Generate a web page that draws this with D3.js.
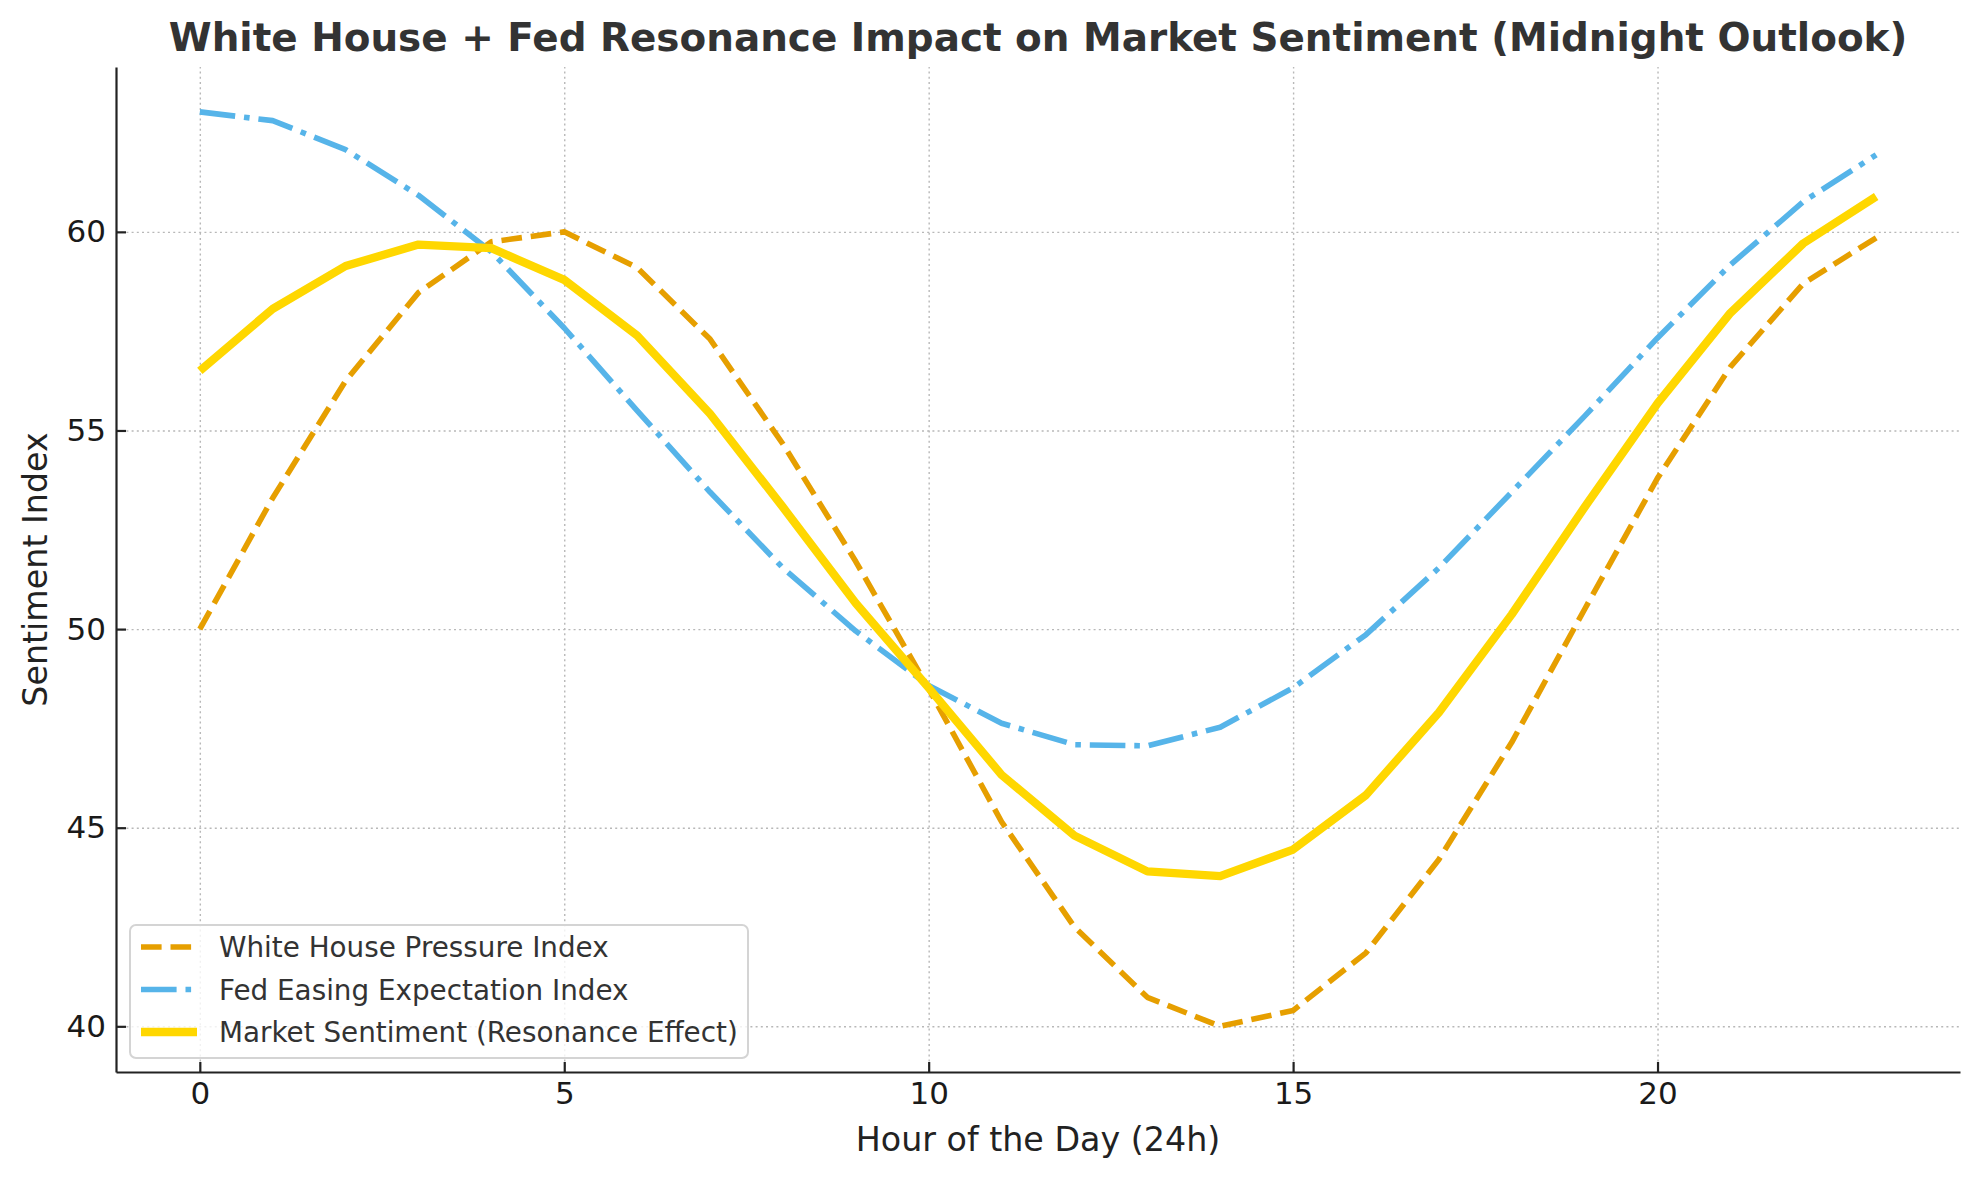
<!DOCTYPE html>
<html>
<head>
<meta charset="utf-8">
<script src="https://cdn.jsdelivr.net/npm/d3@7"></script>
<style>
  body { margin: 0; background: #fff; }
  svg { display: block; font-family: "DejaVu Sans", sans-serif; }
</style>
</head>
<body>
<svg id="chart"></svg>
<script>
// hours 0..23
let hours = d3.range(0, 24)

let whitehouse = [50.0, 53.3, 56.25, 58.47, 59.75, 60.0, 59.1, 57.3, 54.66, 51.7, 48.5, 45.15,
                  42.5, 40.73, 40.0, 40.4, 41.85, 44.2, 47.15, 50.5, 53.8, 56.6, 58.7, 59.85]
let fed = [63.02, 62.8, 62.07, 60.92, 59.5, 57.58, 55.5, 53.45, 51.54, 49.95, 48.58, 47.63,
           47.09, 47.06, 47.53, 48.52, 49.86, 51.54, 53.45, 55.36, 57.33, 59.17, 60.76, 61.94]
let market = [56.5, 58.06, 59.14, 59.68, 59.59, 58.79, 57.39, 55.42, 53.07, 50.65, 48.52, 46.33,
              44.8, 43.9, 43.78, 44.45, 45.82, 47.9, 50.37, 53.07, 55.68, 57.96, 59.71, 60.89]

let seriesNames = ['White House Pressure Index', 'Fed Easing Expectation Index', 'Market Sentiment (Resonance Effect)']
let xTicks = [0, 5, 10, 15, 20]
let yTicks = [40, 45, 50, 55, 60]

let width = 1980
let height = 1180
let plotLeft = 116, plotRight = 1960, plotTop = 67, plotBottom = 1072

let svg = d3.select('#chart')
    .attr('width', width)
    .attr('height', height)

let xScale = d3.scaleLinear()
    .domain([-1.15, 24.15])
    .range([plotLeft, plotRight])

let yScale = d3.scaleLinear()
    .domain([38.85, 64.15])
    .range([plotBottom, plotTop])

// grid
let gridX = svg.append('g')
    .attr('transform', 'translate(0,' + plotBottom + ')')
    .call(d3.axisBottom(xScale).tickValues(xTicks).tickSize(-(plotBottom - plotTop)).tickFormat(''))
gridX.select('.domain').remove()

let gridY = svg.append('g')
    .attr('transform', 'translate(' + plotLeft + ',0)')
    .call(d3.axisLeft(yScale).tickValues(yTicks).tickSize(-(plotRight - plotLeft)).tickFormat(''))
gridY.select('.domain').remove()

svg.selectAll('g line')
    .attr('stroke', '#b8b8b8')
    .attr('stroke-width', 1.4)
    .attr('stroke-dasharray', '2,3.2')

// lines
let series = [
    { name: seriesNames[0], values: whitehouse, color: '#E69F00', w: 5.6, dash: '20.6,8.9' },
    { name: seriesNames[1], values: fed, color: '#56B4E9', w: 5.6, dash: '35.6,8.9,5.6,8.9' },
    { name: seriesNames[2], values: market, color: '#FFD700', w: 8.3, dash: null }
]

let line = d3.line()
    .x((d, i) => xScale(hours[i]))
    .y((d) => yScale(d))

series.forEach((s) => {
    svg.append('path')
        .datum(s.values)
        .attr('d', line)
        .attr('fill', 'none')
        .attr('stroke', s.color)
        .attr('stroke-width', s.w)
        .attr('stroke-linejoin', 'round')
        .attr('stroke-dasharray', s.dash)
})

// axes
let xAxis = svg.append('g')
    .attr('transform', 'translate(0,' + plotBottom + ')')
    .call(d3.axisBottom(xScale).tickValues(xTicks).tickSizeInner(-10).tickSizeOuter(0).tickPadding(10))

let yAxis = svg.append('g')
    .attr('transform', 'translate(' + plotLeft + ',0)')
    .call(d3.axisLeft(yScale).tickValues(yTicks).tickSizeInner(-10).tickSizeOuter(0).tickPadding(10))

;[xAxis, yAxis].forEach((a) => {
    a.select('.domain').attr('stroke', '#222').attr('stroke-width', 2.2)
    a.selectAll('.tick line').attr('stroke', '#222').attr('stroke-width', 2.2)
    a.selectAll('.tick text')
        .attr('fill', '#1a1a1a')
        .style('font-size', '31px')
        .style('font-family', '"DejaVu Sans", sans-serif')
})

// title and labels
svg.append('text')
    .attr('x', (plotLeft + plotRight) / 2)
    .attr('y', 51)
    .attr('text-anchor', 'middle')
    .attr('fill', '#333')
    .style('font-size', '38.9px')
    .style('font-weight', 'bold')
    .text('White House + Fed Resonance Impact on Market Sentiment (Midnight Outlook)')

svg.append('text')
    .attr('x', (plotLeft + plotRight) / 2)
    .attr('y', 1151)
    .attr('text-anchor', 'middle')
    .attr('fill', '#222')
    .style('font-size', '33.3px')
    .text('Hour of the Day (24h)')

svg.append('text')
    .attr('transform', 'translate(47,' + ((plotTop + plotBottom) / 2) + ') rotate(-90)')
    .attr('text-anchor', 'middle')
    .attr('fill', '#222')
    .style('font-size', '33.3px')
    .text('Sentiment Index')

// legend
let legend = svg.append('g')
legend.append('rect')
    .attr('x', 130).attr('y', 925)
    .attr('width', 618).attr('height', 133)
    .attr('rx', 6)
    .attr('fill', 'rgba(255,255,255,0.8)')
    .attr('stroke', '#d4d4d4')
    .attr('stroke-width', 2)

series.forEach((s, i) => {
    let cy = 947 + i * 42.5
    legend.append('line')
        .attr('x1', 141).attr('x2', 197)
        .attr('y1', cy).attr('y2', cy)
        .attr('stroke', s.color)
        .attr('stroke-width', s.w)
        .attr('stroke-dasharray', s.dash)
    legend.append('text')
        .attr('x', 219)
        .attr('y', cy)
        .attr('dy', '0.36em')
        .attr('fill', '#333')
        .style('font-size', '27.8px')
        .text(s.name)
})
</script>
</body>
</html>
